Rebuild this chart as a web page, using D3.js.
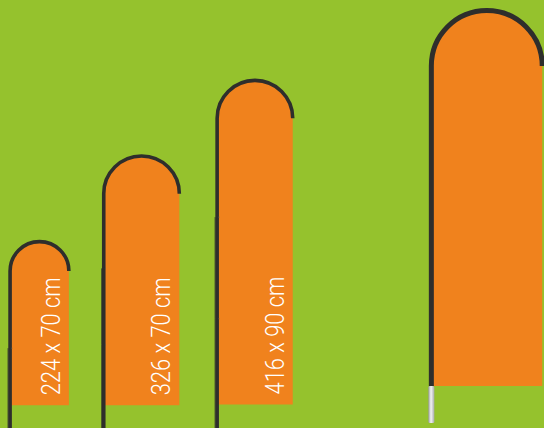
<!DOCTYPE html>
<html>
<head>
<meta charset="utf-8">
<script src="https://cdn.jsdelivr.net/npm/d3@7"></script>
<style>
  html, body { margin: 0; padding: 0; background: #95c22d; overflow: hidden; }
  svg { display: block; }
</style>
</head>
<body>
<script>
let width = 544;
let height = 428;

// flag sizes in cm
let labels = ['224 x 70 cm', '326 x 70 cm', '416 x 90 cm', ''];
let heightCm = [224, 326, 416, 500];
let widthCm = [70, 90, 90, 132];
let fabricBottomCm = [27, 27, 28, 50];
let standCm = [12, 123.5, 258.5, 513.5];
let jointsCm = [[95], [190, 99], [251, 130], []];
let spikeCm = [null, null, null, [6, 50]];

let green = '#95c22d';
let orange = '#f0821d';
let dark = '#2e2e2c';

let y = d3.scaleLinear().domain([0, 500]).range([height, 8]);
let x = d3.scaleLinear().domain([0, width / 0.84]).range([0, width]);

let body = d3.select('body');
let svg = body.append('svg')
              .attr('width', width)
              .attr('height', height);

svg.append('rect')
   .attr('width', width)
   .attr('height', height)
   .attr('fill', green);

let defs = svg.append('defs');
let grad = defs.append('linearGradient')
               .attr('id', 'steel')
               .attr('x1', 0).attr('x2', 1).attr('y1', 0).attr('y2', 0);
grad.append('stop').attr('offset', '0%').attr('stop-color', '#9a9c9e');
grad.append('stop').attr('offset', '45%').attr('stop-color', '#f2f3f4');
grad.append('stop').attr('offset', '100%').attr('stop-color', '#a7a9ab');

let flags = heightCm.map((h, i) => ({
  label: labels[i],
  h: h,
  w: widthCm[i],
  bottom: fabricBottomCm[i],
  stand: standCm[i],
  joints: jointsCm[i],
  spike: spikeCm[i],
  i: i
}));

let g = svg.selectAll('g.flag').data(flags)
           .enter()
           .append('g')
           .attr('class', 'flag');

g.each(function(d) {
  let sel = d3.select(this);
  let sw = d.i === 3 ? 5 : 3.6;
  let px = x(d.stand);
  let r = (x(d.w) - x(0)) / 2;
  let top = y(d.h) + sw / 2;
  let cy = top + r;
  let right = px + 2 * r;
  let fb = y(d.bottom);
  let poleEnd = d.spike ? y(d.spike[1]) : height;

  // fabric
  sel.append('path')
     .attr('d', `M${px},${cy} A${r},${r} 0 0 1 ${right},${cy} L${right},${fb} L${px},${fb} Z`)
     .attr('fill', orange);

  // pole and bent top
  sel.append('path')
     .attr('d', `M${px},${poleEnd} L${px},${cy} A${r},${r} 0 0 1 ${right},${cy}`)
     .attr('fill', 'none')
     .attr('stroke', dark)
     .attr('stroke-width', sw);

  // pole segment joints
  d.joints.forEach((j, k) => {
    let jy = y(j);
    let nextY = k + 1 < d.joints.length ? y(d.joints[k + 1]) : poleEnd;
    sel.append('line')
       .attr('x1', px - sw / 2 - 0.2).attr('x2', px - sw / 2 - 0.2)
       .attr('y1', jy).attr('y2', nextY)
       .attr('stroke', dark)
       .attr('stroke-width', 0.9);
    sel.append('line')
       .attr('x1', px + sw / 2 - 0.6).attr('x2', px + sw / 2 + 0.4)
       .attr('y1', jy).attr('y2', jy)
       .attr('stroke', '#5a5a50')
       .attr('stroke-width', 0.8);
  });

  // ground spike
  if (d.spike) {
    let s0 = y(d.spike[0]);
    let s1 = y(d.spike[1]);
    sel.append('rect')
       .attr('x', px - 3)
       .attr('y', s1)
       .attr('width', 6)
       .attr('height', s0 - s1)
       .attr('rx', 1.5)
       .attr('fill', 'url(#steel)');
  }

  // size label
  if (d.label) {
    sel.append('text')
       .attr('transform', `translate(${right - 9},${fb - 10}) rotate(-90)`)
       .attr('font-family', 'Roboto, "Open Sans", sans-serif')
       .attr('font-weight', 300)
       .attr('font-size', '26px')
       .attr('fill', 'white')
       .attr('textLength', 118)
       .attr('lengthAdjust', 'spacingAndGlyphs')
       .text(d.label);
  }
});
</script>
</body>
</html>
